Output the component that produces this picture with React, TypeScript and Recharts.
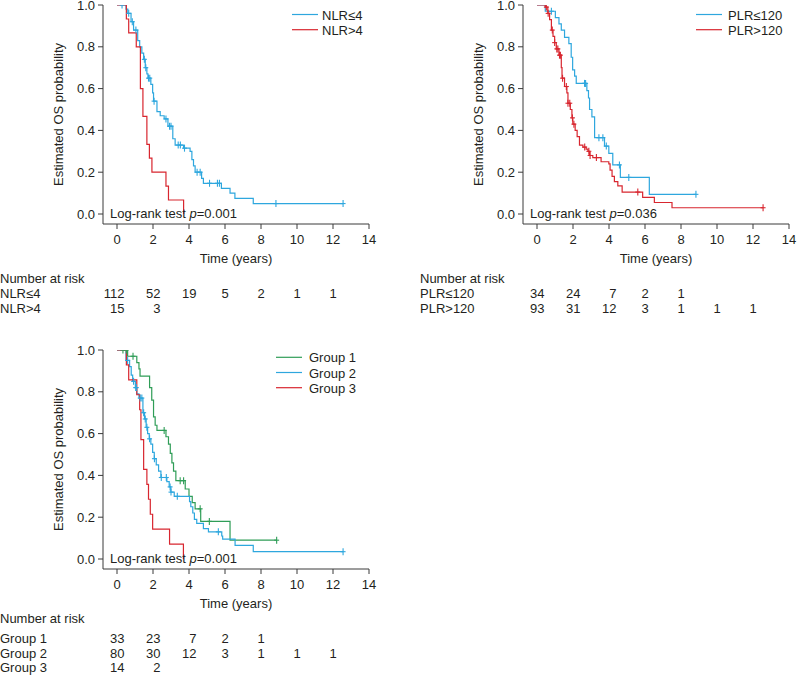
import React from 'react';
import { ComposedChart, Line, Scatter, XAxis, YAxis } from 'recharts';

const BLUE = '#2ea7de';
const RED = '#d8262f';
const GREEN = '#2f9d57';
const INK = '#231f20';
const AXIS = '#3a3a3a';
const FONT = '"Liberation Sans", Arial, sans-serif';

const TIME_TICKS = [0, 2, 4, 6, 8, 10, 12, 14];
const PROB_TICKS = [0, 0.2, 0.4, 0.6, 0.8, 1];
const RISK_TIMES = [0, 2, 4, 6, 8, 10, 12];

// --- NLR panel ---
const nlrLowTimes = [0, 0.5, 0.6, 0.78, 0.92, 1.15, 1.26, 1.38, 1.48, 1.57, 1.66, 1.72, 1.88, 1.98, 2.03, 2.22, 2.4, 2.62, 2.83, 3.1, 3.23, 3.7, 4.06, 4.16, 4.25, 4.34, 4.7, 4.8, 5.8, 6.28, 6.55, 7.57, 12.56];
const nlrLowSurv = [1, 0.98, 0.96, 0.92, 0.88, 0.83, 0.8, 0.77, 0.74, 0.7, 0.67, 0.65, 0.62, 0.58, 0.54, 0.49, 0.47, 0.455, 0.42, 0.36, 0.33, 0.315, 0.3, 0.26, 0.23, 0.2, 0.17, 0.147, 0.123, 0.1, 0.075, 0.05, 0.05];
const nlrLowCensor = [0.28, 0.65, 0.85, 1.05, 1.52, 1.6, 1.75, 1.82, 2.06, 2.72, 2.92, 3.0, 3.4, 3.52, 3.75, 4.45, 4.62, 5.14, 5.58, 5.69, 8.83, 12.56];
const nlrHighTimes = [0, 0.52, 0.65, 1.07, 1.3, 1.44, 1.66, 1.8, 1.94, 2.72, 2.86, 3.7];
const nlrHighSurv = [1, 0.933, 0.867, 0.8, 0.6, 0.467, 0.333, 0.267, 0.2, 0.133, 0.067, 0];
const nlrHighCensor: number[] = [];
const nlrLowRisk = [112, 52, 19, 5, 2, 1, 1];
const nlrHighRisk = [15, 3];

// --- PLR panel ---
const plrLowTimes = [0, 0.46, 1.02, 1.22, 1.35, 1.53, 1.77, 1.9, 1.98, 2.09, 2.18, 2.77, 2.86, 2.92, 3.05, 3.2, 3.75, 3.99, 4.21, 4.63, 6.24, 8.83];
const plrLowSurv = [1, 0.97, 0.94, 0.91, 0.88, 0.845, 0.815, 0.75, 0.69, 0.66, 0.625, 0.59, 0.555, 0.5, 0.465, 0.365, 0.325, 0.29, 0.235, 0.175, 0.094, 0.094];
const plrLowCensor = [0.8, 2.64, 2.7, 3.44, 3.66, 3.85, 4.58, 5.1, 8.83];
const plrHighTimes = [0, 0.46, 0.6, 0.7, 0.8, 0.89, 0.98, 1.07, 1.22, 1.35, 1.39, 1.53, 1.66, 1.72, 1.85, 1.94, 1.99, 2.12, 2.23, 2.36, 2.55, 2.73, 2.83, 2.92, 3.1, 3.56, 3.99, 4.06, 4.17, 4.3, 4.49, 4.73, 5.87, 6.52, 7.5, 12.56];
const plrHighSurv = [1, 0.99, 0.96, 0.93, 0.88, 0.85, 0.82, 0.79, 0.76, 0.7, 0.65, 0.61, 0.58, 0.53, 0.5, 0.46, 0.43, 0.4, 0.37, 0.33, 0.32, 0.31, 0.3, 0.28, 0.27, 0.25, 0.24, 0.21, 0.18, 0.155, 0.135, 0.105, 0.08, 0.055, 0.03, 0.03];
const plrHighCensor = [0.52, 0.62, 0.85, 0.98, 1.1, 1.16, 1.25, 1.3, 1.42, 1.63, 1.72, 1.82, 1.97, 2.05, 2.65, 2.88, 2.95, 3.3, 5.6, 12.56];
const plrLowRisk = [34, 24, 7, 2, 1];
const plrHighRisk = [93, 31, 12, 3, 1, 1, 1];

// --- Group panel ---
const g1Times = [0, 0.59, 1.1, 1.22, 1.28, 1.81, 1.93, 2.03, 2.12, 2.22, 2.72, 2.86, 2.96, 3.05, 3.14, 3.27, 3.79, 4.0, 4.18, 4.34, 4.65, 6.28, 8.87];
const g1Surv = [1, 0.97, 0.94, 0.91, 0.875, 0.82, 0.76, 0.68, 0.64, 0.615, 0.585, 0.55, 0.505, 0.46, 0.42, 0.375, 0.335, 0.3, 0.27, 0.24, 0.18, 0.09, 0.09];
const g1Censor = [0.33, 0.52, 0.89, 2.62, 3.51, 3.7, 4.62, 5.13, 8.87];
const g2Times = [0, 0.5, 0.7, 0.79, 0.87, 1.02, 1.1, 1.22, 1.44, 1.53, 1.62, 1.7, 1.79, 1.88, 1.98, 2.07, 2.18, 2.31, 2.44, 2.77, 2.9, 2.99, 3.18, 4.03, 4.1, 4.21, 4.3, 4.43, 4.8, 5.08, 5.82, 5.87, 6.56, 7.57, 12.56];
const g2Surv = [1, 0.95, 0.92, 0.88, 0.85, 0.82, 0.79, 0.77, 0.7, 0.67, 0.63, 0.6, 0.575, 0.55, 0.51, 0.48, 0.45, 0.42, 0.39, 0.37, 0.345, 0.32, 0.3, 0.275, 0.25, 0.22, 0.19, 0.17, 0.145, 0.13, 0.11, 0.095, 0.065, 0.035, 0.035];
const g2Censor = [0.59, 0.92, 1.04, 1.07, 1.29, 1.38, 1.48, 1.57, 1.66, 1.81, 2.08, 2.46, 2.74, 2.95, 3.0, 3.35, 5.63, 12.56];
const g3Times = [0, 0.52, 0.65, 1.1, 1.26, 1.33, 1.48, 1.66, 1.75, 1.85, 1.98, 2.92, 3.69];
const g3Surv = [1, 0.929, 0.857, 0.786, 0.714, 0.571, 0.429, 0.357, 0.286, 0.214, 0.143, 0.071, 0];
const g3Censor: number[] = [];
const g1Risk = [33, 23, 7, 2, 1];
const g2Risk = [80, 30, 12, 3, 1, 1, 1];
const g3Risk = [14, 2];

type Series = { name: string; color: string; times: number[]; surv: number[]; censor: number[]; risk: number[] };

const steps = (T: number[], S: number[]) => T.map((t, i) => ({ t, s: S[i] }));
const survAt = (T: number[], S: number[], t: number) => {
  let s = S[0];
  T.forEach((ti, i) => { if (ti <= t) s = S[i]; });
  return s;
};
const marks = (sr: Series) => sr.censor.map(t => ({ t, s: survAt(sr.times, sr.surv, t) }));

const plus = (color: string) => (props: any) => {
  const { cx, cy } = props;
  return (
    <g>
      <line x1={cx} x2={cx} y1={cy - 3.5} y2={cy + 3.5} stroke={color} strokeWidth={1.1} />
      <line x1={cx - 2.5} x2={cx + 2.5} y1={cy} y2={cy} stroke={color} strokeWidth={1.1} />
    </g>
  );
};

const PANELS = [
  {
    left: 0, top: 0, width: 400, right: 31, p: '0.001',
    legendLine: 292, legendText: 322, legendY: 14.5,
    series: [
      { name: 'NLR≤4', color: BLUE, times: nlrLowTimes, surv: nlrLowSurv, censor: nlrLowCensor, risk: nlrLowRisk },
      { name: 'NLR>4', color: RED, times: nlrHighTimes, surv: nlrHighSurv, censor: nlrHighCensor, risk: nlrHighRisk },
    ] as Series[],
    headerY: 283, rowY: 298,
  },
  {
    left: 420, top: 0, width: 378, right: 9, p: '0.036',
    legendLine: 696, legendText: 728, legendY: 14.5,
    series: [
      { name: 'PLR≤120', color: BLUE, times: plrLowTimes, surv: plrLowSurv, censor: plrLowCensor, risk: plrLowRisk },
      { name: 'PLR>120', color: RED, times: plrHighTimes, surv: plrHighSurv, censor: plrHighCensor, risk: plrHighRisk },
    ] as Series[],
    headerY: 283, rowY: 298,
  },
  {
    left: 0, top: 345, width: 400, right: 31, p: '0.001',
    legendLine: 276, legendText: 309, legendY: 12.3,
    series: [
      { name: 'Group 1', color: GREEN, times: g1Times, surv: g1Surv, censor: g1Censor, risk: g1Risk },
      { name: 'Group 2', color: BLUE, times: g2Times, surv: g2Surv, censor: g2Censor, risk: g2Risk },
      { name: 'Group 3', color: RED, times: g3Times, surv: g3Surv, censor: g3Censor, risk: g3Risk },
    ] as Series[],
    headerY: 278, rowY: 298,
  },
];

const CH = 260;
const YW = 60;
const ML = 43;

function Panel({ cfg }: { cfg: typeof PANELS[number] }) {
  const axisX = ML + YW; // 103 inside panel
  const x0 = axisX + 14;
  const pxPerYear = 18;
  const plotRight = cfg.width - cfg.right;
  return (
    <div style={{ position: 'absolute', left: cfg.left, top: cfg.top, width: cfg.width, height: 330 }}>
      <ComposedChart width={cfg.width} height={CH} margin={{ top: 5, right: cfg.right, bottom: 6, left: ML }}>
        <XAxis type="number" dataKey="t" domain={[0, 14]} ticks={TIME_TICKS} interval={0} allowDataOverflow
          padding={{ left: 14, right: 0 }} height={30} tickSize={5} tickMargin={6} stroke={AXIS}
          tick={{ fontSize: 13, fill: INK }} />
        <YAxis type="number" dataKey="s" domain={[0, 1]} ticks={PROB_TICKS} interval={0} allowDataOverflow
          padding={{ top: 0, bottom: 10 }} width={YW} tickSize={5} tickMargin={3} stroke={AXIS}
          tickFormatter={(v: number) => v.toFixed(1)} tick={{ fontSize: 13, fill: INK }} />
        {cfg.series.map(sr => (
          <Line key={sr.name} data={steps(sr.times, sr.surv)} dataKey="s" type="stepAfter" stroke={sr.color}
            strokeWidth={1.2} dot={false} activeDot={false} isAnimationActive={false} />
        ))}
        {cfg.series.map(sr => (
          <Scatter key={sr.name + 'c'} data={marks(sr)} fill={sr.color} shape={plus(sr.color)} isAnimationActive={false} />
        ))}
      </ComposedChart>
      <svg width={cfg.width} height={330} style={{ position: 'absolute', left: 0, top: 0, pointerEvents: 'none', overflow: 'visible' }}>
        <text x={63} y={114.5} textAnchor="middle" transform="rotate(-90 63 114.5)" fontSize={13} fill={INK}>Estimated OS probability</text>
        <text x={axisX + 7} y={217.7} fontSize={13} fill={INK}>
          Log-rank test <tspan fontStyle="italic">p</tspan>=0{cfg.p.slice(1)}
        </text>
        <text x={(axisX + plotRight) / 2} y={263} textAnchor="middle" fontSize={13} fill={INK}>Time (years)</text>
        {cfg.series.map((sr, i) => (
          <g key={sr.name}>
            <line x1={cfg.legendLine - cfg.left} x2={cfg.legendLine - cfg.left + 26} y1={cfg.legendY + i * 15.2} y2={cfg.legendY + i * 15.2} stroke={sr.color} strokeWidth={1.2} />
            <text x={cfg.legendText - cfg.left} y={cfg.legendY + 5 + i * 15.2} fontSize={13} fill={INK}>{sr.name}</text>
          </g>
        ))}
        <text x={0} y={cfg.headerY} fontSize={13} fill={INK}>Number at risk</text>
        {cfg.series.map((sr, i) => (
          <g key={sr.name + 'r'}>
            <text x={0} y={cfg.rowY + i * 14.7} fontSize={13} fill={INK}>{sr.name}</text>
            {sr.risk.map((n, j) => {
              const tx = x0 + RISK_TIMES[j] * pxPerYear;
              const right = RISK_TIMES[j] <= 4;
              return (
                <text key={j} x={right ? tx + 7.5 : tx} y={cfg.rowY + i * 14.7} textAnchor={right ? 'end' : 'middle'} fontSize={13} fill={INK}>{n}</text>
              );
            })}
          </g>
        ))}
      </svg>
    </div>
  );
}

export default function App() {
  return (
    <div style={{ position: 'absolute', left: 0, top: 0, width: 798, height: 675, background: '#fff', fontFamily: FONT, overflow: 'hidden' }}>
      <style>{'.recharts-surface{overflow:visible}'}</style>
      {PANELS.map((cfg, i) => <Panel key={i} cfg={cfg} />)}
    </div>
  );
}
